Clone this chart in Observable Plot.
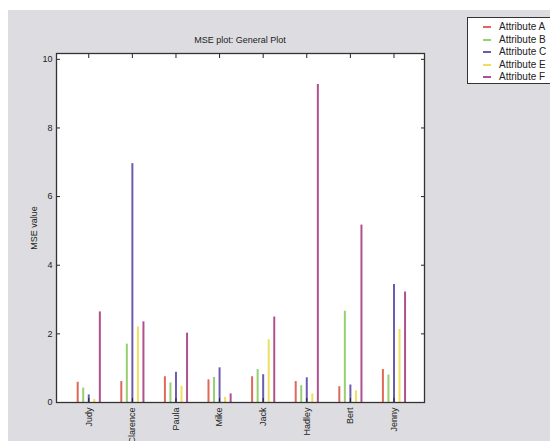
<!DOCTYPE html>
<html>
<head>
<meta charset="utf-8">
<script src="https://cdn.jsdelivr.net/npm/d3@7"></script>
<script src="https://cdn.jsdelivr.net/npm/@observablehq/plot@0.6"></script>
<style>
html, body { margin: 0; padding: 0; background: #ffffff; }
#fig { position: relative; margin: 10px 0 0 8px; width: 542px; height: 431px; background: #dddde1; overflow: hidden;
       font-family: "Liberation Sans", Arial, sans-serif; color: #222; }
#fig svg { position: absolute; left: 0; top: 0; }
#title { position: absolute; left: 48px; width: 368px; top: 25px; text-align: center; font-size: 9px; }
#legend { position: absolute; left: 459px; top: 7px; width: 110px; height: 65px; border: 1px solid #333; background: #fff; }
.item { position: absolute; left: 0; height: 12px; font-size: 10px; line-height: 12px; white-space: nowrap; }
.swatch { position: absolute; left: 15px; top: 5px; width: 8px; height: 2px; }
.lab { position: absolute; left: 31px; top: 0; }
</style>
</head>
<body>
<div id="fig">
  <div id="title">MSE plot: General Plot</div>
  <div id="legend"></div>
</div>
<script>
// ---- data ----
const names = ["Judy", "Clarence", "Paula", "Mike", "Jack", "Hadley", "Bert", "Jenny"];
const attrA = [0.59, 0.61, 0.75, 0.66, 0.75, 0.61, 0.46, 0.96];
const attrB = [0.42, 1.70, 0.57, 0.73, 0.96, 0.49, 2.66, 0.80];
const attrC = [0.22, 6.96, 0.88, 1.01, 0.81, 0.72, 0.51, 3.44];
const attrE = [0.09, 2.20, 0.47, 0.15, 1.83, 0.25, 0.34, 2.13];
const attrF = [2.64, 2.35, 2.02, 0.25, 2.49, 9.27, 5.17, 3.22];
const seriesNames = ["Attribute A", "Attribute B", "Attribute C", "Attribute E", "Attribute F"];
const seriesValues = [attrA, attrB, attrC, attrE, attrF];
const seriesColors = ["#e0685a", "#96d070", "#6c5cb0", "#eedf5e", "#b0508e"];
const yTicks = [0, 2, 4, 6, 8, 10];

// ---- table ----
const dodge = 0.127; // offset between bars of one group, in category units
const idx = names.map((_, i) => i);
const rows = seriesValues.flatMap((vals, k) =>
  vals.map((v, i) => ({ name: names[i], pos: i + (k - 2) * dodge, value: v, series: seriesNames[k] })));

const chart = Plot.plot({
  width: 542, height: 431,
  marginLeft: 48, marginRight: 126, marginTop: 43, marginBottom: 39,
  style: { background: "transparent", fontFamily: "Liberation Sans, Arial, sans-serif", fontSize: "9px", color: "#222" },
  x: { domain: [-0.74, 7.70] },
  y: { domain: [0, 10.17] },
  color: { domain: seriesNames, range: seriesColors },
  marks: [
    Plot.frame({ fill: "white" }),
    Plot.ruleX(rows, { x: "pos", y1: 0, y2: "value", stroke: "series", strokeWidth: 2 }),
    Plot.axisY(yTicks, { anchor: "left", tickSize: 0, tickPadding: 4, label: "MSE value", labelArrow: "none", labelAnchor: "center", labelOffset: 26 }),
    Plot.axisY(yTicks, { anchor: "left", tickSize: -4, tickFormat: () => "", label: null }),
    Plot.axisY(yTicks, { anchor: "right", tickSize: -4, tickFormat: () => "", label: null }),
    Plot.axisX(idx, { anchor: "bottom", tickSize: 0, tickPadding: 5, tickRotate: -90, tickFormat: i => names[i], label: null }),
    Plot.axisX(idx, { anchor: "bottom", tickSize: -4, tickFormat: () => "", label: null }),
    Plot.axisX(idx, { anchor: "top", tickSize: -4, tickFormat: () => "", label: null }),
    Plot.frame({ stroke: "#333", strokeWidth: 1.3 })
  ]
});
document.getElementById("fig").appendChild(chart);

// ---- legend ----
const legend = document.getElementById("legend");
seriesNames.forEach((s, k) => {
  const it = document.createElement("div");
  it.className = "item";
  it.style.top = (3 + 12.6 * k) + "px";
  it.innerHTML = `<span class="swatch" style="background:${seriesColors[k]}"></span><span class="lab">${s}</span>`;
  legend.appendChild(it);
});
</script>
</body>
</html>
